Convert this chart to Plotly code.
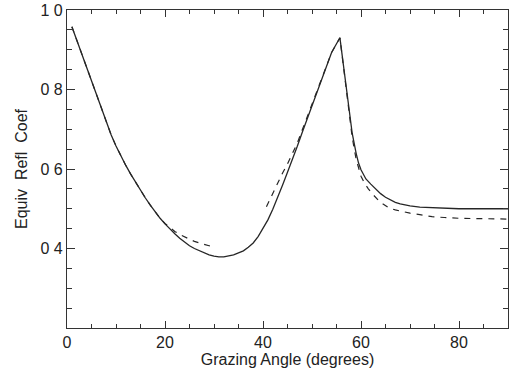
import plotly.graph_objects as go

# Solid curve
solid_x = [1, 2, 3, 4, 5, 6, 7, 8, 9, 10, 11, 12, 13, 14, 15, 16, 17, 18, 19, 20,
           21, 22, 23, 24, 25, 26, 27, 28, 29, 30, 31, 32, 33, 34, 35, 36, 37, 38, 39,
           40, 41, 42, 43, 44, 45, 46, 47, 48, 49, 50, 51, 52, 53, 54, 55, 55.7,
           57.0, 58.2, 59, 59.5, 60, 60.5, 61, 62, 63, 64, 65, 66, 67, 68, 70, 72, 75, 80, 90]
solid_y = [0.958, 0.924, 0.890, 0.856, 0.822, 0.788, 0.754, 0.718, 0.686, 0.658, 0.632,
           0.609, 0.587, 0.566, 0.545, 0.527, 0.509, 0.492, 0.476, 0.462, 0.449, 0.437,
           0.426, 0.416, 0.407, 0.400, 0.394, 0.388, 0.384, 0.381, 0.379, 0.379, 0.381,
           0.384, 0.389, 0.394, 0.403, 0.414, 0.430, 0.450, 0.472, 0.499, 0.528, 0.560,
           0.592, 0.623, 0.657, 0.692, 0.726, 0.760, 0.795, 0.828, 0.862, 0.893, 0.915,
           0.930, 0.805, 0.690, 0.640, 0.615, 0.598, 0.585, 0.575, 0.562, 0.549, 0.538,
           0.529, 0.522, 0.516, 0.512, 0.507, 0.504, 0.502, 0.500, 0.500]

# Dashed curve, with a gap between ~30 and ~40 degrees
dashed_x = [1, 2, 3, 4, 5, 6, 7, 8, 9, 10, 11, 12, 13, 14, 15, 16, 17, 18, 19, 20,
            21, 22, 23, 24, 25, 26, 27, 28, 29, 29.8, None,
            40.7, 41, 42, 43, 44, 45, 46, 47, 48, 49, 50, 51, 52, 53, 54, 55, 55.7,
            57.0, 58.2, 59, 59.5, 60, 60.7, 61.5, 62.5, 63.5, 64.5, 65.7, 67, 68.3, 70,
            72, 74.5, 77, 80, 85, 90]
dashed_y = [0.958, 0.924, 0.890, 0.856, 0.822, 0.788, 0.754, 0.718, 0.686, 0.658, 0.632,
            0.609, 0.587, 0.566, 0.545, 0.527, 0.509, 0.492, 0.476, 0.463, 0.452, 0.443,
            0.435, 0.429, 0.423, 0.418, 0.414, 0.410, 0.407, 0.405, None,
            0.505, 0.513, 0.540, 0.565, 0.590, 0.613, 0.637, 0.665, 0.698, 0.730, 0.762,
            0.795, 0.828, 0.862, 0.893, 0.915, 0.930, 0.800, 0.680, 0.625, 0.600, 0.582,
            0.565, 0.550, 0.535, 0.522, 0.512, 0.502, 0.497, 0.493, 0.489, 0.485, 0.480,
            0.478, 0.476, 0.475, 0.474]

x_tickvals = [0, 20, 40, 60, 80]
x_ticktext = ["0", "20", "40", "60", "80"]
y_tickvals = [0.4, 0.6, 0.8, 1.0]
y_ticktext = ["0 4", "0 6", "0 8", "1 0"]

line_color = "#262626"
font = dict(family="Liberation Sans, Arial, Helvetica, sans-serif", size=16, color="#222")

fig = go.Figure()
fig.add_trace(go.Scatter(x=dashed_x, y=dashed_y, mode="lines", connectgaps=False,
                         line=dict(color=line_color, width=1.2, dash="6px,6px"),
                         showlegend=False, hoverinfo="skip"))
fig.add_trace(go.Scatter(x=solid_x, y=solid_y, mode="lines",
                         line=dict(color=line_color, width=1.3),
                         showlegend=False))

axis_common = dict(showgrid=False, zeroline=False, showline=True, linecolor="#333",
                   linewidth=1.2, mirror="ticks", ticks="inside", tickcolor="#333",
                   tickwidth=1, tickfont=font, automargin=True)

fig.update_xaxes(range=[0, 90], tickvals=x_tickvals, ticktext=x_ticktext, ticklen=7,
                 minor=dict(dtick=5, tick0=0, ticks="inside", ticklen=4, tickcolor="#333"),
                 title=dict(text="Grazing Angle (degrees)", font=font, standoff=3),
                 **axis_common)
fig.update_yaxes(range=[0.2, 1.0], tickvals=y_tickvals, ticktext=y_ticktext, ticklen=8,
                 minor=dict(dtick=0.05, tick0=0.2, ticks="inside", ticklen=5, tickcolor="#333"),
                 title=dict(text="Equiv  Refl  Coef", font=font, standoff=8),
                 **axis_common)

fig.update_layout(width=509, height=375, margin=dict(l=67, r=1, t=10, b=47, autoexpand=False),
                  paper_bgcolor="white", plot_bgcolor="white", font=font)

fig.write_html("out.html", config={"displayModeBar": False},
               post_script="document.body.style.margin='0';document.body.style.padding='0';")
